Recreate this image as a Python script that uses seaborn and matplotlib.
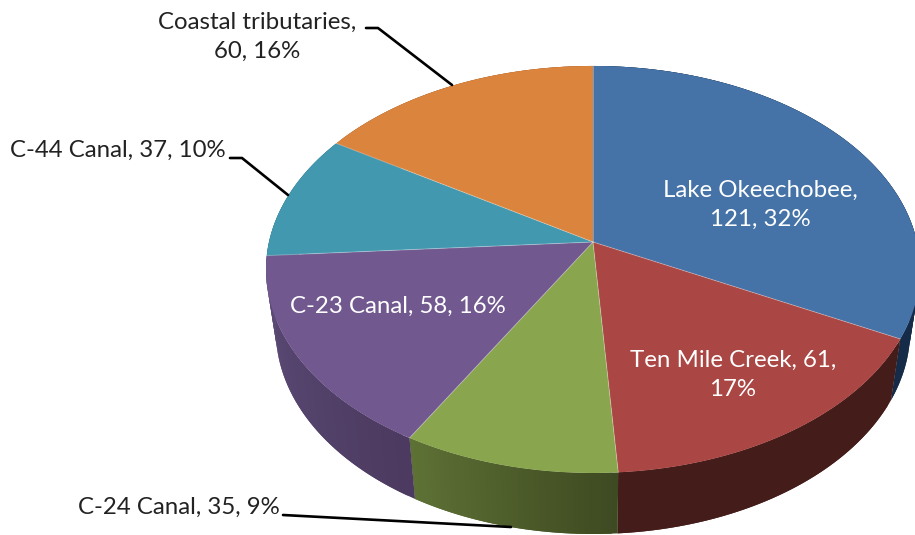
import numpy as np
import seaborn as sns
import matplotlib
matplotlib.use("Agg")
import matplotlib.pyplot as plt

# slices, clockwise from 12 o'clock
categories = ["Lake Okeechobee", "Ten Mile Creek", "C-24 Canal", "C-23 Canal", "C-44 Canal", "Coastal tributaries"]
values = [121, 61, 35, 58, 37, 60]
percents = [32, 17, 9, 16, 10, 16]

top_colors = ["#4572A7", "#AA4643", "#89A54E", "#71588F", "#4198AF", "#DB843D"]
# rim shading, first colour at the start of the slice (clockwise)
side_start = ["#1A3352", "#441C19", "#3E4A21", "#4C3A60", "#2F7286", "#A86330"]
side_end = ["#152B47", "#441C19", "#5E7135", "#5C4C78", "#2F7286", "#A86330"]

sns.set_theme(style="white")
plt.rcParams["font.family"] = ["Lato", "DejaVu Sans"]
palette = sns.color_palette(top_colors)

# tilt of the pie, worked out from the picture (pixels)
apex_x, apex_y = 593, 242
radius_x, radius_y = 324, 199.8
persp = 0.135
depth = 61
base_shrink = 0.97


def project(theta, r=1.0, base=False):
    xs = r * np.sin(theta)
    ys = r * np.cos(theta)
    den = 1 + persp * ys
    px = radius_x * xs / den
    py = radius_y * ys / den
    if base:
        return apex_x + px * base_shrink, apex_y - py + depth
    return apex_x + px, apex_y - py


fig = plt.figure(figsize=(9.15, 5.35), dpi=100)
ax = fig.add_axes([0, 0, 1, 1])
ax.set_xlim(0, 915)
ax.set_ylim(535, 0)
ax.axis("off")

edges = np.cumsum([0] + values) / sum(values) * 2 * np.pi

# side wall, strips overlap the next one so no seams show
for i in range(len(values)):
    start = np.array(matplotlib.colors.to_rgb(side_start[i]))
    end = np.array(matplotlib.colors.to_rgb(side_end[i]))
    steps = np.linspace(edges[i], edges[i + 1], 40)
    for j in range(len(steps) - 1):
        t = np.linspace(steps[j], steps[min(j + 2, len(steps) - 1)], 6)
        x1, y1 = project(t)
        x2, y2 = project(t[::-1], base=True)
        col = start + (end - start) * j / (len(steps) - 2)
        ax.fill(np.r_[x1, x2], np.r_[y1, y2], color=col, lw=0, zorder=1)

# top face
for i in range(len(values)):
    t = np.linspace(edges[i], edges[i + 1], 150)
    x, y = project(t)
    ax.fill(np.r_[apex_x, x], np.r_[apex_y, y], color=palette[i], lw=0, zorder=2)
    lx, ly = project(edges[i])
    ax.plot([apex_x, lx], [apex_y, ly], color="white", alpha=0.3, lw=0.7, zorder=3)

labels = [f"{c}, {v}, {p}%" for c, v, p in zip(categories, values, percents)]
text_style = dict(fontsize=17.3, ha="center", va="center", linespacing=1.5, zorder=5)
ax.text(760, 205, labels[0].replace(", 121", ",\n121"), color="white", **text_style)
ax.text(733, 375, labels[1].replace("61, ", "61,\n"), color="white", **text_style)
ax.text(179, 507, labels[2], color="#222222", **text_style)
ax.text(398, 306, labels[3], color="white", **text_style)
ax.text(118, 150, labels[4], color="#222222", **text_style)
ax.text(257, 37, labels[5].replace(", 60", ",\n60"), color="#222222", **text_style)

# leader lines
ax.plot([366, 378, 452], [28, 28, 85], color="black", lw=1.9, zorder=4)
ax.plot([230, 242, 288], [158, 158, 195], color="black", lw=1.9, zorder=4)
ax.plot([283, 511], [515, 527], color="black", lw=1.9, zorder=4)

fig.savefig("out.png", dpi=100, facecolor="white")
